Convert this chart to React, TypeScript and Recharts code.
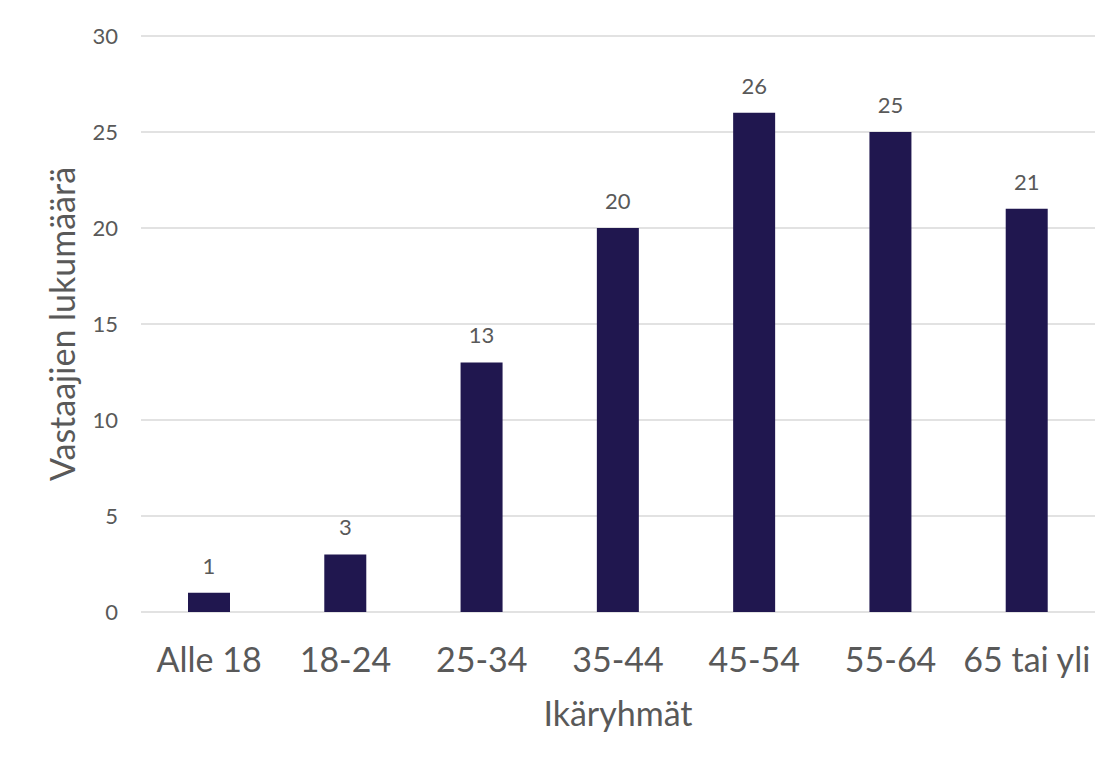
import React from 'react';
import { BarChart, Bar, XAxis, YAxis, CartesianGrid, LabelList, Label } from 'recharts';

const ageGroups = ['Alle 18', '18-24', '25-34', '35-44', '45-54', '55-64', '65 tai yli'];
const respondents = [1, 3, 13, 20, 26, 25, 21];
const yTicks = [0, 5, 10, 15, 20, 25, 30];

const data = ageGroups.map((group, i) => ({ group, count: respondents[i] }));

const FONT = 'Lato, "Open Sans", sans-serif';
const TEXT = '#595959';

const YTitle = (props: any) => {
  const vb = props.viewBox;
  const cx = vb.x + 67;
  const cy = vb.y + vb.height / 2;
  return (
    <text
      x={cx}
      y={cy}
      transform={`rotate(-90, ${cx}, ${cy})`}
      textAnchor="middle"
      fill={TEXT}
      fontSize={34}
      fontFamily={FONT}
    >
      Vastaajien lukumäärä
    </text>
  );
};

const XTitle = (props: any) => {
  const vb = props.viewBox;
  return (
    <text
      x={vb.x + vb.width / 2}
      y={vb.y + 114}
      textAnchor="middle"
      fill={TEXT}
      fontSize={34}
      fontFamily={FONT}
    >
      Ikäryhmät
    </text>
  );
};

const App: React.FC = () => {
  return (
    <div
      style={{
        marginLeft: -2,
        marginTop: -2,
        width: 1104,
        height: 755,
        borderTop: '2px solid #e0e0e0',
        borderLeft: '2px solid #e0e0e0',
        background: '#fff',
        fontFamily: FONT,
      }}
    >
      <BarChart
        width={1104}
        height={755}
        data={data}
        margin={{ top: 28, right: 17, left: 0, bottom: 0 }}
      >
        <CartesianGrid vertical={false} stroke="#d9d9d9" strokeWidth={1.5} />
        <XAxis
          dataKey="group"
          height={151}
          axisLine={false}
          tickLine={false}
          tickSize={0}
          tickMargin={36}
          interval={0}
          tick={{ fill: TEXT, fontSize: 34, fontFamily: FONT }}
        >
          <Label content={<XTitle />} />
        </XAxis>
        <YAxis
          width={133}
          domain={[0, 30]}
          ticks={yTicks}
          axisLine={false}
          tickLine={false}
          tickSize={0}
          tickMargin={23}
          tick={{ fill: TEXT, fontSize: 22, fontFamily: FONT }}
        >
          <Label content={<YTitle />} />
        </YAxis>
        <Bar dataKey="count" fill="#20174f" barSize={42} isAnimationActive={false}>
          <LabelList
            dataKey="count"
            position="top"
            offset={19}
            fill={TEXT}
            fontSize={22}
            fontFamily={FONT}
          />
        </Bar>
      </BarChart>
    </div>
  );
};

export default App;
